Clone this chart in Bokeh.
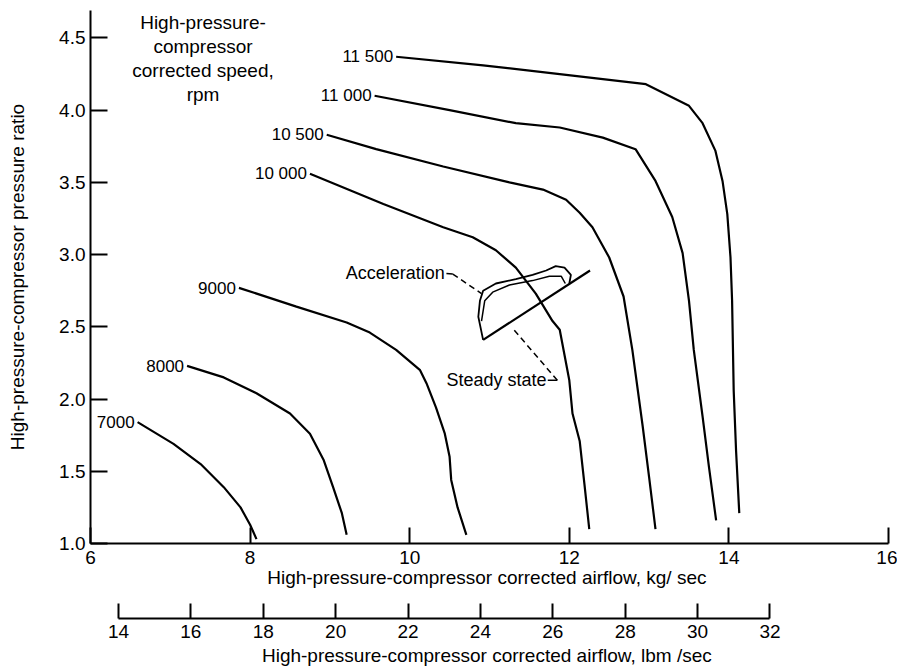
import numpy as np
from bokeh.plotting import figure
from bokeh.models import (LinearAxis, Range1d, FixedTicker, ColumnDataSource,
                          Label, NumeralTickFormatter, CustomJSTickFormatter)
from bokeh.core.properties import value
from bokeh.embed import file_html
from bokeh.resources import INLINE

KG_TO_LBM = 2.20462

# ---- speed lines: corrected airflow (kg/sec) vs pressure ratio ----
speed_labels = ["7000", "8000", "9000", "10 000", "10 500", "11 000", "11 500"]

flow_7000 = [6.59, 7.04, 7.38, 7.67, 7.88, 8.00, 8.08]
pr_7000 = [1.84, 1.69, 1.55, 1.39, 1.25, 1.13, 1.03]

flow_8000 = [7.21, 7.67, 8.08, 8.50, 8.75, 8.92, 9.04, 9.15, 9.21]
pr_8000 = [2.23, 2.15, 2.04, 1.90, 1.76, 1.58, 1.39, 1.21, 1.06]

flow_9000 = [7.86, 8.58, 9.21, 9.50, 9.83, 10.13, 10.21, 10.33, 10.44, 10.50, 10.52, 10.60, 10.71]
pr_9000 = [2.77, 2.64, 2.53, 2.46, 2.34, 2.20, 2.11, 1.94, 1.76, 1.60, 1.44, 1.25, 1.06]

flow_10000 = [8.75, 9.67, 10.42, 10.79, 11.08, 11.33, 11.58, 11.79, 11.88, 12.00, 12.04, 12.13, 12.19, 12.25]
pr_10000 = [3.56, 3.35, 3.19, 3.12, 3.03, 2.91, 2.73, 2.54, 2.48, 2.13, 1.90, 1.71, 1.41, 1.10]

flow_10500 = [8.96, 9.58, 10.42, 11.25, 11.67, 11.96, 12.13, 12.29, 12.50, 12.68, 12.79, 12.92, 13.00, 13.08]
pr_10500 = [3.83, 3.73, 3.61, 3.50, 3.45, 3.38, 3.29, 3.19, 2.98, 2.71, 2.34, 1.81, 1.46, 1.10]

flow_11000 = [9.56, 10.50, 11.33, 11.88, 12.42, 12.83, 13.08, 13.29, 13.42, 13.50, 13.56, 13.67, 13.75, 13.84]
pr_11000 = [4.10, 4.00, 3.91, 3.88, 3.81, 3.73, 3.51, 3.26, 3.01, 2.68, 2.34, 1.88, 1.53, 1.16]

flow_11500 = [9.83, 10.92, 11.88, 12.96, 13.50, 13.67, 13.83, 13.92, 13.98, 14.02, 14.04, 14.06, 14.09, 14.13]
pr_11500 = [4.37, 4.31, 4.25, 4.18, 4.03, 3.91, 3.72, 3.51, 3.28, 2.98, 2.68, 2.06, 1.64, 1.21]

# ---- acceleration transients and steady-state operating line ----
accel_flow_outer = [10.92, 10.86, 10.88, 10.92, 11.08, 11.33, 11.54, 11.71, 11.83, 11.94, 12.02, 12.00]
accel_pr_outer = [2.41, 2.57, 2.68, 2.75, 2.80, 2.83, 2.86, 2.89, 2.92, 2.91, 2.86, 2.80]
accel_flow_inner = [10.90, 10.94, 11.04, 11.25, 11.54, 11.75, 11.90, 11.95]
accel_pr_inner = [2.54, 2.68, 2.74, 2.79, 2.82, 2.85, 2.85, 2.80]
steady_flow = [10.92, 12.26]
steady_pr = [2.41, 2.89]

# ---- annotation anchors (label end, solid stub, dashed leader) ----
accel_label_flow, accel_label_pr = 10.44, 2.87
accel_leader_flow = [10.46, 10.54, 10.90]
accel_leader_pr = [2.87, 2.865, 2.73]
steady_label_flow, steady_label_pr = 10.46, 2.135
steady_leader_flow = [11.73, 11.85, 11.29]
steady_leader_pr = [2.13, 2.13, 2.49]

# ---- axes ----
x_ticks_kg = [6, 8, 10, 12, 14, 16]
x_ticks_lbm = [14, 16, 18, 20, 22, 24, 26, 28, 30, 32]
y_ticks = [1.0, 1.5, 2.0, 2.5, 3.0, 3.5, 4.0, 4.5]
x_range_kg = (6, 16)
y_range_pr = (1.0, 4.69)

FONT = "Liberation Sans"

p = figure(frame_width=798, frame_height=533,
           x_range=Range1d(*x_range_kg), y_range=Range1d(*y_range_pr),
           x_axis_type=None, y_axis_type=None,
           output_backend="svg", toolbar_location=None,
           min_border_left=90, min_border_right=9, min_border_top=10,
           min_border_bottom=0, outline_line_color=None,
           background_fill_color="white", border_fill_color="white")
p.xgrid.visible = False
p.ygrid.visible = False

p.extra_x_ranges = {"lbm": Range1d(x_range_kg[0] * KG_TO_LBM, x_range_kg[1] * KG_TO_LBM)}

def style_axis(ax, tick_in, label_standoff, axis_label_standoff):
    ax.axis_line_width = 2
    ax.axis_line_color = "black"
    ax.major_tick_in = tick_in
    ax.major_tick_out = 0
    ax.major_tick_line_width = 2
    ax.major_tick_line_color = "black"
    ax.minor_tick_line_color = None
    ax.major_label_text_font = FONT
    ax.major_label_text_font_size = "19px"
    ax.major_label_text_color = "black"
    ax.major_label_standoff = label_standoff
    ax.axis_label_text_font = FONT
    ax.axis_label_text_font_size = "19px"
    ax.axis_label_text_font_style = "normal"
    ax.axis_label_text_color = "black"
    ax.axis_label_standoff = axis_label_standoff

yax = LinearAxis(ticker=FixedTicker(ticks=y_ticks),
                 formatter=NumeralTickFormatter(format="0.0"),
                 axis_label="High-pressure-compressor pressure ratio")
style_axis(yax, 17, 5, 28)
p.add_layout(yax, "left")

xax = LinearAxis(ticker=FixedTicker(ticks=x_ticks_kg),
                 axis_label="High-pressure-compressor corrected airflow,  kg/ sec")
style_axis(xax, 16, 7, 0)
p.add_layout(xax, "below")

# blank spacer between the two airflow scales (one white tick, empty label)
spacer = LinearAxis(ticker=FixedTicker(ticks=[x_range_kg[0]]), axis_line_color=None,
                    major_tick_line_color="white", minor_tick_line_color=None,
                    major_tick_in=0, major_tick_out=28, major_label_standoff=0,
                    major_label_text_font_size="1px",
                    formatter=CustomJSTickFormatter(code="return ''"))
p.add_layout(spacer, "below")

lbm_ax = LinearAxis(x_range_name="lbm", ticker=FixedTicker(ticks=x_ticks_lbm),
                    bounds=(x_ticks_lbm[0], x_ticks_lbm[-1]),
                    axis_label="High-pressure-compressor corrected airflow,  lbm /sec")
style_axis(lbm_ax, 15, 6, 4)
p.add_layout(lbm_ax, "below")

# ---- speed lines ----
flows = [flow_7000, flow_8000, flow_9000, flow_10000, flow_10500, flow_11000, flow_11500]
prs = [pr_7000, pr_8000, pr_9000, pr_10000, pr_10500, pr_11000, pr_11500]
for f, r in zip(flows, prs):
    p.line(f, r, line_color="black", line_width=2.2)

lab_src = ColumnDataSource(dict(x=[f[0] for f in flows], y=[r[0] for r in prs], t=speed_labels))
p.text(x="x", y="y", text="t", source=lab_src, text_align="right", text_baseline="middle",
       x_offset=-3, text_font=value(FONT), text_font_size="17px", text_color="black")

# ---- acceleration / steady state ----
p.line(accel_flow_outer, accel_pr_outer, line_color="black", line_width=1.8)
p.line(accel_flow_inner, accel_pr_inner, line_color="black", line_width=1.5)
p.line(steady_flow, steady_pr, line_color="black", line_width=2.2)

p.line(accel_leader_flow[:2], accel_leader_pr[:2], line_color="black", line_width=1.5)
p.line(accel_leader_flow[1:], accel_leader_pr[1:], line_color="black", line_width=1.5, line_dash="6 4")
p.line(steady_leader_flow[:2], steady_leader_pr[:2], line_color="black", line_width=1.5)
p.line(steady_leader_flow[1:], steady_leader_pr[1:], line_color="black", line_width=1.5, line_dash="6 4")

ann_src = ColumnDataSource(dict(x=[accel_label_flow, steady_label_flow],
                                y=[accel_label_pr, steady_label_pr],
                                t=["Acceleration", "Steady state"],
                                a=["right", "left"]))
p.text(x="x", y="y", text="t", text_align="a", source=ann_src, text_baseline="middle",
       text_font=value(FONT), text_font_size="18px", text_color="black")

title = Label(x=7.41, y=4.68, text="High-pressure-\ncompressor\ncorrected speed,\nrpm",
              text_align="center", text_baseline="top", text_font=FONT,
              text_font_size="19px", text_line_height=1.15, text_color="black")
p.add_layout(title)

open("out.html", "w").write(file_html(p, INLINE))
